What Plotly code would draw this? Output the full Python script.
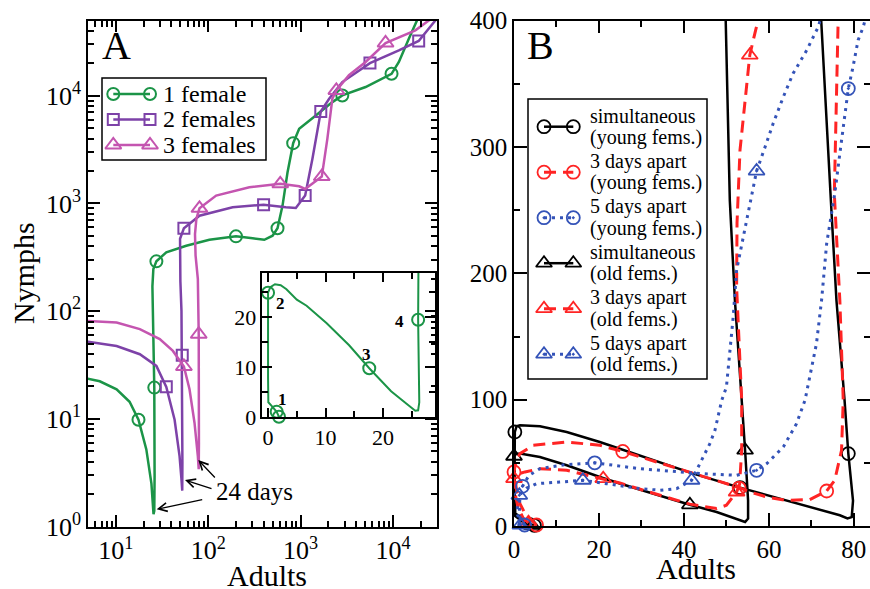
import plotly.graph_objects as go

# ---------------- DATA ----------------
# Panel A: Adults vs Nymphs (log-log). Trajectories for 1, 2, 3 females.
green_x = [1.9, 1.5, 0.7, 0.05, 0.0, 0.0, 0.0, 0.4, 1.2, 2.2, 3.2, 5.0, 6.7, 10.2, 14.1, 17.6, 21.4, 24.3, 25.6,
           26.1, 26.3, 26.1, 25.6, 25.1, 24.9, 25.5, 27.5, 35.2, 57.9, 103, 200, 303, 405, 498, 563, 638, 723, 832,
           966, 1462, 2210, 2830, 5060, 9660, 11600, 14860, 18200, 20000]
green_y = [0.1, 1.1, 2.2, 3.0, 8.0, 15.0, 24.9, 26.0, 26.6, 26.4, 25.6, 23.5, 22.3, 18.8, 14.4, 9.8, 5.2, 2.5, 1.3,
           1.4, 3.0, 19.5, 45, 100, 170, 246, 290, 352, 405, 460, 495, 475, 460, 502, 588, 955, 1950, 3630,
           4930, 6560, 8730, 10070, 12050, 16000, 20600, 33900, 50000, 63000]
green_mx = [1.9, 1.5, 0.0, 17.6, 26.1, 27.5, 200, 563, 832, 2830, 9660]
green_my = [0.1, 1.1, 24.9, 9.8, 19.5, 290, 495, 588, 3630, 10070, 16000]

purple_x = [4.0, 5.0, 10.2, 18.2, 27.5, 35.2, 43.3, 49.0, 51.3, 52.4, 52.6, 52.5, 52.4, 51.4, 50.0, 49.3, 49.6,
            54.6, 80.5, 184, 398, 693, 889, 1122, 1343, 1656, 2040, 2830, 5640, 11600, 19000, 28800, 35000]
purple_y = [53, 52, 47.5, 39.8, 31, 19.8, 9.8, 4.5, 2.8, 2.15, 4.0, 12, 39, 100, 190, 330, 470,
            588, 770, 922, 975, 922, 908, 1183, 2590, 7140, 9380, 13400, 20100, 26400, 32300, 50000, 60000]
purple_mx = [35.2, 52.4, 54.6, 398, 1122, 1656, 5640, 19000]
purple_my = [19.8, 39, 588, 975, 1183, 7140, 20100, 32300]

magenta_x = [4.0, 5.0, 10.2, 18.2, 29.9, 41.5, 54.6, 62.8, 71.1, 77.3, 79.0, 79.4, 79.0, 77.3, 73.0, 72.0, 74.5,
             80.5, 122, 279, 603, 966, 1122, 1698, 1950, 2208, 2440, 3340, 5060, 8320, 17500, 27600, 32000]
magenta_y = [82, 81, 78.5, 68, 55, 42.7, 30.6, 18.8, 9.2, 4.5, 3.4, 6.0, 61, 198, 330, 520, 720,
             902, 1183, 1415, 1520, 1445, 1364, 1775, 3980, 9380, 11200, 15500, 20600, 30900, 40500, 54000, 62000]
magenta_mx = [54.6, 79.0, 80.5, 603, 1698, 2440, 8320, 27600]
magenta_my = [30.6, 61, 902, 1520, 1775, 11200, 30900, 54000]

names_A = ["1 female", "2 females", "3 females"]
inset_labels = ["1", "2", "3", "4"]
inset_label_x = [2.5, 2.2, 17.1, 22.8]
inset_label_y = [3.5, 22.8, 12.5, 19.1]

xA_tickvals = [10, 100, 1000, 10000]
xA_ticktext = ["10<sup>1</sup>", "10<sup>2</sup>", "10<sup>3</sup>", "10<sup>4</sup>"]
yA_tickvals = [1, 10, 100, 1000, 10000]
yA_ticktext = ["10<sup>0</sup>", "10<sup>1</sup>", "10<sup>2</sup>", "10<sup>3</sup>", "10<sup>4</sup>"]

# Panel B: Adults vs Nymphs (linear)
sy_x = [4.8, 3.0, 1.8, 0.3, 0.1, 0.1, 0.2, 0.6, 1.4, 6.1, 12.4, 20.2, 25.6, 42.2, 53.2, 61.0, 68.9, 76.7, 78.5,
        79.5, 79.8, 78.7, 77.8, 75.9, 74.6, 72.4, 72.0]
sy_y = [0.5, 2.5, 7.0, 9.8, 30, 60, 74.4, 79.0, 79.7, 78.9, 74.4, 66.5, 60.5, 41.5, 30.4, 23.0, 15.6, 8.5, 6.0,
        7.0, 20, 57.3, 100, 178.7, 257, 400, 420]
sy_mx = [4.8, 0.2, 53.2, 78.7]
sy_my = [0.5, 74.4, 30.4, 57.3]

r3y_x = [5.3, 4.2, 2.6, 1.4, 0.6, 0.0, 0.5, 1.4, 4.5, 12.4, 20.2, 25.6, 42.2, 53.2, 55.5, 60.0, 64.2, 69.6, 73.6,
         75.5, 77.1, 77.5, 76.7, 75.4, 76.3, 76.4]
r3y_y = [0.8, 4.5, 9.8, 17.7, 28.3, 42.8, 52, 57.3, 63.9, 66.5, 63.9, 59.0, 41.5, 30.2, 26.9, 22.5, 20.3, 20.9,
         27.7, 36.2, 60, 99.5, 178.7, 263, 400, 420]
r3y_mx = [5.3, 0.0, 25.6, 53.0, 73.6]
r3y_my = [0.8, 42.8, 59.0, 30.0, 27.7]

b5y_x = [2.5, 1.8, 1.3, 1.3, 1.5, 2.0, 3.5, 6.1, 12.0, 19.0, 29.6, 34.4, 43.8, 52.4, 57.1, 59.5, 63.4, 66.5, 68.5,
         71.2, 72.4, 73.6, 75.5, 76.7, 77.9, 78.7, 79.8, 81.0, 82.2, 83.0]
b5y_y = [0.8, 3.0, 8.0, 18.0, 25.0, 31.4, 40.0, 45.4, 48.5, 50.0, 45.4, 44.1, 41.5, 40.1, 44.1, 49.4, 62.6, 81.0,
         99.5, 144.4, 178.7, 223.6, 263, 294.8, 323.8, 346.3, 363.4, 384.6, 395, 405]
b5y_mx = [2.5, 2.0, 19.0, 57.1, 78.7]
b5y_my = [0.8, 31.4, 50.0, 44.1, 346.3]

so_x = [4.2, 2.5, 1.2, 0.2, 0.1, 0.0, 0.4, 1.4, 6.1, 12.4, 20.2, 24.9, 34.4, 41.4, 47.7, 53.2, 54.4, 55.1, 55.1,
        54.4, 53.6, 52.0, 50.8, 49.9, 49.7]
so_y = [0.5, 2.0, 5.5, 8.0, 30, 55.2, 56.8, 57.3, 54.6, 48.1, 38.8, 33.6, 23.9, 16.8, 11.1, 4.5, 3.2, 5.9, 20.3,
        60, 99.5, 178.7, 257.7, 400, 420]
so_mx = [4.2, 0.0, 41.4, 54.4]
so_my = [0.5, 55.2, 16.8, 60]

r3o_x = [3.4, 2.2, 1.0, 0.3, 0.0, 0.8, 2.6, 6.1, 12.4, 21.0, 24.9, 34.4, 41.4, 47.7, 50.0, 52.4, 53.1, 53.6, 53.6,
         52.4, 52.5, 53.2, 54.8, 55.5, 56.7, 58.0]
r3o_y = [2.5, 6.0, 14.0, 25.0, 37.5, 41.0, 42.8, 45.4, 44.1, 37.5, 34.0, 24.3, 17.3, 13.8, 16.4, 26.9, 33.0, 60.0,
         99.5, 189, 240, 297.5, 350, 372.7, 390, 408]
r3o_mx = [3.4, 0.0, 21.0, 52.4, 55.5]
r3o_my = [2.5, 37.5, 37.5, 26.9, 372.7]

b5o_x = [1.5, 1.2, 0.8, 0.8, 1.25, 3.0, 5.3, 10.8, 16.2, 21.8, 29.6, 34.4, 38.3, 41.8, 44.5, 46.1, 47.3, 48.9,
         50.0, 51.6, 52.4, 55.5, 57.1, 59.1, 61.0, 63.4, 65.7, 68.9, 71.6, 72.5]
b5o_y = [0.8, 4.0, 10.0, 18.0, 24.3, 30.0, 33.5, 34.8, 36.2, 33.5, 29.6, 28.3, 29.6, 36.2, 54.6, 65.2, 75.8, 99.5,
         110, 165.5, 202.5, 252.6, 281, 300, 318.6, 339.7, 358.2, 376.6, 395, 405]
b5o_mx = [1.5, 1.25, 16.2, 41.8, 57.1]
b5o_my = [0.8, 24.3, 36.2, 36.2, 281]

names_B = [("simultaneous", "(young fems.)"), ("3 days apart", "(young fems.)"), ("5 days apart", "(young fems.)"),
           ("simultaneous", "(old fems.)"), ("3 days apart", "(old fems.)"), ("5 days apart", "(old fems.)")]

# ---------------- STYLE ----------------
W, H = 870, 589
FONT = "Liberation Serif"
GREEN = "#1b9447"
PURPLE = "#7d42a8"
MAGENTA = "#c455b0"
RED = "#ff2424"
BLUE = "#3453b8"
BLACK = "#000000"


def fx(p):
    return p / W


def fy(p):
    return 1 - p / H


fig = go.Figure()

# --- Panel A main ---
seriesA = [(green_x, green_y, green_mx, green_my, GREEN, "circle-open", 12),
           (purple_x, purple_y, purple_mx, purple_my, PURPLE, "square-open", 11),
           (magenta_x, magenta_y, magenta_mx, magenta_my, MAGENTA, "triangle-up-open", 14)]
for lx, ly, mx, my, col, sym, sz in seriesA:
    fig.add_trace(go.Scatter(x=lx, y=ly, mode="lines", line=dict(color=col, width=2.5),
                             xaxis="x", yaxis="y", showlegend=False, hoverinfo="skip"))
    fig.add_trace(go.Scatter(x=mx, y=my, mode="markers", cliponaxis=False,
                             marker=dict(symbol=sym, size=sz, color=col, line=dict(width=2, color=col)),
                             xaxis="x", yaxis="y", showlegend=False))

# --- Inset (linear view of the 1-female trajectory) ---
fig.add_trace(go.Scatter(x=green_x, y=green_y, mode="lines", line=dict(color=GREEN, width=2),
                         xaxis="x2", yaxis="y2", showlegend=False, hoverinfo="skip"))
in_mx = [a for a, b in zip(green_mx, green_my) if a <= 29 and b <= 29]
in_my = [b for a, b in zip(green_mx, green_my) if a <= 29 and b <= 29]
fig.add_trace(go.Scatter(x=in_mx, y=in_my, mode="markers", cliponaxis=False,
                         marker=dict(symbol="circle-open", size=12, color=GREEN, line=dict(width=2, color=GREEN)),
                         xaxis="x2", yaxis="y2", showlegend=False))

# --- Panel B ---
seriesB = [(sy_x, sy_y, sy_mx, sy_my, BLACK, "solid", 2.5, "circle-open"),
           (so_x, so_y, so_mx, so_my, BLACK, "solid", 2.5, "triangle-up-open"),
           (r3y_x, r3y_y, r3y_mx, r3y_my, RED, "12px,7px", 3, "circle-open"),
           (r3o_x, r3o_y, r3o_mx, r3o_my, RED, "12px,7px", 3, "triangle-up-open"),
           (b5y_x, b5y_y, b5y_mx, b5y_my, BLUE, "3px,5px", 3, "circle-open-dot"),
           (b5o_x, b5o_y, b5o_mx, b5o_my, BLUE, "3px,5px", 3, "triangle-up-open-dot")]
for lx, ly, mx, my, col, dash, lw, sym in seriesB:
    fig.add_trace(go.Scatter(x=lx, y=ly, mode="lines", line=dict(color=col, width=lw, dash=dash),
                             xaxis="x3", yaxis="y3", showlegend=False, hoverinfo="skip"))
    fig.add_trace(go.Scatter(x=mx, y=my, mode="markers", cliponaxis=False,
                             marker=dict(symbol=sym, size=14 if "triangle" in sym else 13, color=col,
                                         line=dict(width=1.8, color=col)),
                             xaxis="x3", yaxis="y3", showlegend=False))

# --- Legends (drawn on a hidden pixel-coordinate overlay axis) ---
legA_rows = [94, 119.5, 145]
for (lx, ly, mx, my, col, sym, sz), row in zip(seriesA, legA_rows):
    fig.add_trace(go.Scatter(x=[113.3, 150], y=[row, row], mode="lines+markers",
                             line=dict(color=col, width=2.5),
                             marker=dict(symbol=sym, size=sz, color=col, line=dict(width=2, color=col)),
                             xaxis="x4", yaxis="y4", showlegend=False, hoverinfo="skip"))
legB_order = [0, 2, 4, 1, 3, 5]
legB_rows = [126.7, 172.2, 217.7, 263.2, 308.7, 354.2]
for idx, row in zip(legB_order, legB_rows):
    lx, ly, mx, my, col, dash, lw, sym = seriesB[idx]
    fig.add_trace(go.Scatter(x=[544, 573.3], y=[row, row], mode="lines+markers",
                             line=dict(color=col, width=lw, dash=dash),
                             marker=dict(symbol=sym, size=14 if "triangle" in sym else 13, color=col,
                                         line=dict(width=1.8, color=col)),
                             xaxis="x4", yaxis="y4", showlegend=False, hoverinfo="skip"))

# dummy empty traces so minor-tick overlay axes are created
for xa, ya in [("x5", "y"), ("x", "y5"), ("x6", "y2"), ("x2", "y6"), ("x7", "y3"), ("x3", "y7")]:
    fig.add_trace(go.Scatter(x=[], y=[], xaxis=xa, yaxis=ya, showlegend=False, hoverinfo="skip"))


def ann(x, y, text, size, xanchor="center", yanchor="middle", **kw):
    d = dict(x=fx(x), y=fy(y), xref="paper", yref="paper", text=text, showarrow=False,
             xanchor=xanchor, yanchor=yanchor, font=dict(family=FONT, size=size, color="black"))
    d.update(kw)
    return d


annotations = []
for name, row in zip(names_A, legA_rows):
    annotations.append(ann(161, row, name, 24, xanchor="left"))
for (l1, l2), row in zip(names_B, legB_rows):
    annotations.append(ann(587.5, row - 11, l1, 20, xanchor="left"))
    annotations.append(ann(587.5, row + 10.5, l2, 20, xanchor="left"))

annotations += [
    ann(117, 46, "A", 40),
    ann(540, 46, "B", 40),
    ann(23, 273, "Nymphs", 30, textangle=-90),
    ann(267, 575, "Adults", 30),
    ann(696, 568, "Adults", 30),
    ann(254, 491, "24 days", 25),
]
for hx, hy, ax, ay in [(156.7, 509.3, 47, -10), (185, 480, 28, 9), (198.3, 460, 18, 19)]:
    annotations.append(dict(x=fx(hx), y=fy(hy), xref="paper", yref="paper", text="", showarrow=True,
                            ax=ax, ay=ay, arrowhead=5, arrowsize=1.3, arrowwidth=1.3, arrowcolor="black"))
for t, lx, ly in zip(inset_labels, inset_label_x, inset_label_y):
    annotations.append(dict(x=lx, y=ly, xref="x2", yref="y2", text="<b>%s</b>" % t, showarrow=False,
                            xanchor="center", yanchor="middle",
                            font=dict(family=FONT, size=17, color="black")))

shapes = [
    dict(type="rect", xref="paper", yref="paper", x0=fx(102), x1=fx(266), y0=fy(160), y1=fy(78),
         line=dict(color="black", width=1.5), fillcolor="rgba(0,0,0,0)"),
    dict(type="rect", xref="paper", yref="paper", x0=fx(528), x1=fx(707), y0=fy(379), y1=fy(99),
         line=dict(color="black", width=1.5), fillcolor="rgba(0,0,0,0)"),
]


def minor_log(lo, hi):
    vals = []
    d = 1
    while d <= hi:
        for k in range(2, 10):
            v = k * d
            if lo <= v <= hi:
                vals.append(v)
        d *= 10
    return vals


def major_axis(**kw):
    d = dict(showline=True, linecolor="black", linewidth=1.5, mirror="ticks", ticks="inside",
             tickcolor="black", tickwidth=1.5, showgrid=False, zeroline=False, automargin=False,
             tickmode="array", fixedrange=True)
    d.update(kw)
    return d


def minor_axis(vals, **kw):
    d = dict(showline=False, mirror="ticks", ticks="inside", tickcolor="black", tickwidth=1.5, ticklen=6,
             showgrid=False, zeroline=False, automargin=False, tickmode="array", tickvals=vals,
             ticktext=[""] * len(vals), showticklabels=False, fixedrange=True)
    d.update(kw)
    return d


xA_range = [0.69897, 4.4771]
yA_range = [0, 4.699]
xA_dom = [fx(88), fx(437)]
yA_dom = [1 - 526.5 / H, 1 - 20.5 / H]
xI_dom = [fx(262.3), fx(434.8)]
yI_dom = [1 - 417.3 / H, 1 - 272.7 / H]
xB_dom = [fx(514), 1.0]
yB_dom = [1 - 526 / H, 1 - 20.7 / H]

fig.update_layout(
    width=W, height=H, margin=dict(l=0, r=0, t=0, b=0, autoexpand=False),
    paper_bgcolor="white", plot_bgcolor="rgba(0,0,0,0)",
    font=dict(family=FONT, color="black"),
    showlegend=False,
    xaxis=major_axis(type="log", range=xA_range, domain=xA_dom, anchor="y",
                     tickvals=xA_tickvals, ticktext=xA_ticktext, ticklen=12,
                     tickfont=dict(family=FONT, size=26)),
    yaxis=major_axis(type="log", range=yA_range, domain=yA_dom, anchor="x",
                     tickvals=yA_tickvals, ticktext=yA_ticktext, ticklen=12,
                     tickfont=dict(family=FONT, size=26)),
    xaxis5=minor_axis(minor_log(5, 30000), type="log", range=xA_range, domain=xA_dom, anchor="y",
                      overlaying="x", side="bottom"),
    yaxis5=minor_axis(minor_log(1, 50000), type="log", range=yA_range, domain=yA_dom, anchor="x",
                      overlaying="y", side="left"),
    xaxis2=major_axis(range=[-1, 29], domain=xI_dom, anchor="y2", tickvals=[0, 10, 20], ticklen=10,
                      tickfont=dict(family=FONT, size=22)),
    yaxis2=major_axis(range=[0, 28.9], domain=yI_dom, anchor="x2", tickvals=[0, 10, 20], ticklen=10,
                      tickfont=dict(family=FONT, size=22)),
    xaxis6=minor_axis([5, 15, 25], range=[-1, 29], domain=xI_dom, anchor="y2", overlaying="x2", side="bottom"),
    yaxis6=minor_axis([5, 15, 25], range=[0, 28.9], domain=yI_dom, anchor="x2", overlaying="y2", side="left"),
    xaxis3=major_axis(range=[0, 83.8], domain=xB_dom, anchor="y3", tickvals=[0, 20, 40, 60, 80], ticklen=13,
                      tickfont=dict(family=FONT, size=25)),
    yaxis3=major_axis(range=[0, 400], domain=yB_dom, anchor="x3", tickvals=[0, 100, 200, 300, 400], ticklen=13,
                      tickfont=dict(family=FONT, size=25)),
    xaxis7=minor_axis([10, 30, 50, 70], range=[0, 83.8], domain=xB_dom, anchor="y3", overlaying="x3",
                      side="bottom"),
    yaxis7=minor_axis([50, 150, 250, 350], range=[0, 400], domain=yB_dom, anchor="x3", overlaying="y3",
                      side="left"),
    xaxis4=dict(range=[0, W], domain=[0, 1], anchor="y4", visible=False, fixedrange=True),
    yaxis4=dict(range=[H, 0], domain=[0, 1], anchor="x4", visible=False, fixedrange=True),
    annotations=annotations,
    shapes=shapes,
)

fig.write_html("out.html")
